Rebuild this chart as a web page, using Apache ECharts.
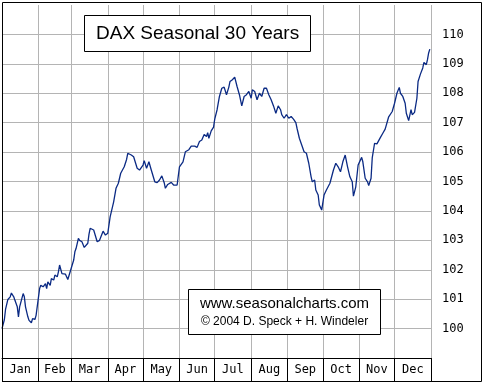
<!DOCTYPE html>
<html>
<head>
<meta charset="utf-8">
<script src="https://cdn.jsdelivr.net/npm/echarts@6/dist/echarts.min.js"></script>
<style>
html,body{margin:0;padding:0;background:#fff;}
#chart{width:484px;height:388px;}
</style>
</head>
<body>
<div id="chart"></div>
<script>
// Month names and day-of-year boundaries
const months = ['Jan','Feb','Mar','Apr','May','Jun','Jul','Aug','Sep','Oct','Nov','Dec'];
const monthStarts = [0,31,59,90,120,151,181,212,243,273,304,334,365];
const monthMids = [15.5,45,74.5,105,135.5,166,196.5,227.5,258,288.5,319,349.5];
const yTicks = [100,101,102,103,104,105,106,107,108,109,110];

// Seasonal index (day of year, value)
const days = [0,2,3,5,7,8,10,11,13,14,15,18,19,20,22,23,25,26,28,29,30,32,33,35,37,38,39,41,42,44,45,47,48,49,51,52,54,55,56,58,59,61,62,63,65,66,68,70,73,74,75,78,81,83,86,88,90,92,95,97,99,101,104,106,107,110,112,115,117,120,121,123,125,127,130,132,134,136,138,139,141,144,146,149,151,154,156,159,161,164,166,168,170,172,174,175,176,178,180,181,183,185,187,189,191,193,194,196,198,200,202,204,206,208,210,212,213,215,217,219,221,223,225,227,229,231,233,235,237,238,240,242,244,246,248,250,251,253,255,257,259,261,263,264,266,267,269,270,271,272,274,276,279,282,284,286,288,290,292,294,296,298,299,301,303,306,307,309,311,312,314,315,317,319,322,324,326,329,330,332,334,336,338,339,341,343,344,346,348,349,351,353,354,356,358,359,361,362,363,364];
const values = [100.00,100.30,100.65,100.99,101.08,101.21,101.08,100.96,100.74,100.40,100.74,101.19,101.08,100.74,100.40,100.28,100.20,100.34,100.31,100.45,100.51,101.36,101.47,101.42,101.53,101.36,101.59,101.47,101.70,101.65,101.82,101.76,101.93,102.16,101.87,101.89,101.85,101.89,101.67,101.93,101.99,102.33,102.61,102.72,103.07,103.00,102.95,102.76,102.90,103.20,103.41,103.35,102.95,103.00,103.31,103.18,103.24,103.80,104.31,104.77,104.94,105.28,105.50,105.75,105.96,105.90,105.84,105.45,105.39,105.56,105.71,105.45,105.67,105.39,104.99,104.96,105.05,105.19,104.96,104.77,104.90,104.97,104.88,104.88,105.50,105.67,106.01,106.08,106.20,106.20,106.16,106.36,106.41,106.60,106.53,106.66,106.47,106.72,106.85,107.12,107.44,107.89,108.17,108.21,107.95,108.21,108.40,108.46,108.55,108.23,107.95,107.57,107.89,107.95,108.06,107.83,108.12,108.06,107.78,108.00,107.89,108.17,108.17,107.95,107.78,107.57,107.32,107.57,107.44,107.27,107.15,107.27,107.15,107.21,107.12,107.00,106.81,106.47,106.24,106.01,105.96,105.62,105.16,104.99,105.05,104.71,104.54,104.20,104.12,104.03,104.54,104.71,104.94,105.39,105.62,105.50,105.33,105.67,105.90,105.50,105.16,104.99,104.50,104.82,105.56,105.82,105.67,105.11,104.99,104.86,105.11,105.80,106.30,106.28,106.50,106.64,106.78,107.20,107.15,107.38,107.66,108.00,108.20,108.00,107.89,107.66,107.32,107.07,107.44,107.27,107.35,107.83,108.40,108.65,108.86,109.05,108.97,109.14,109.37,109.50];

const seriesData = days.map((d, i) => [d, values[i]]);

const chart = echarts.init(document.getElementById('chart'), null, {renderer: 'canvas'});
chart.setOption({
  animation: false,
  backgroundColor: '#ffffff',
  title: [
    {
      text: 'DAX Seasonal 30 Years',
      left: 84, top: 15,
      padding: [9, 12, 9, 12],
      backgroundColor: '#ffffff',
      borderColor: '#000000',
      borderWidth: 1,
      textStyle: {fontFamily: 'Liberation Sans', fontSize: 19, fontWeight: 'normal', color: '#000000'}
    },
    {
      text: '{a|www.seasonalcharts.com}\n{b|© 2004 D. Speck + H. Windeler}',
      left: 188, top: 288,
      padding: [7, 11, 7, 11],
      backgroundColor: '#ffffff',
      borderColor: '#000000',
      borderWidth: 1,
      textStyle: {
        fontWeight: 'normal',
        rich: {
          a: {fontFamily: 'Liberation Sans', fontSize: 15, fontWeight: 'normal', lineHeight: 18, color: '#000000', align: 'center', width: 171},
          b: {fontFamily: 'Liberation Sans', fontSize: 12, fontWeight: 'normal', lineHeight: 18, color: '#000000', align: 'center', width: 171}
        }
      }
    }
  ],
  grid: {left: 2, right: 53, top: 5, bottom: 30, containLabel: false},
  xAxis: {
    type: 'value', min: 0, max: 365,
    axisLine: {show: true, lineStyle: {color: '#000000', width: 1}},
    axisTick: {show: true, customValues: monthStarts, length: 24, inside: false, lineStyle: {color: '#000000', width: 1}},
    splitLine: {show: true, lineStyle: {color: '#b4b4b4', width: 1}},
    axisLabel: {
      show: true, customValues: monthMids, margin: 6,
      fontFamily: 'DejaVu Sans Mono', fontSize: 12, color: '#000000',
      formatter: v => months[monthMids.indexOf(v)] || ''
    }
  },
  yAxis: {
    type: 'value', position: 'right', min: 99, max: 111, interval: 1,
    axisLine: {show: false},
    axisTick: {show: false},
    splitLine: {show: true, showMaxLine: false, lineStyle: {color: '#b4b4b4', width: 1}},
    axisLabel: {
      margin: 11, fontFamily: 'DejaVu Sans Mono', fontSize: 12, color: '#000000',
      formatter: v => yTicks.indexOf(v) >= 0 ? String(v) : ''
    }
  },
  series: [{
    type: 'line',
    data: seriesData,
    showSymbol: false,
    symbol: 'none',
    lineStyle: {color: '#0b2a84', width: 1.3},
    z: 3
  }],
  graphic: [{
    type: 'rect', z: 100, silent: true,
    shape: {x: 2.5, y: 2.5, width: 479, height: 379},
    style: {fill: 'none', stroke: '#000000', lineWidth: 1}
  }]
});
</script>
</body>
</html>
